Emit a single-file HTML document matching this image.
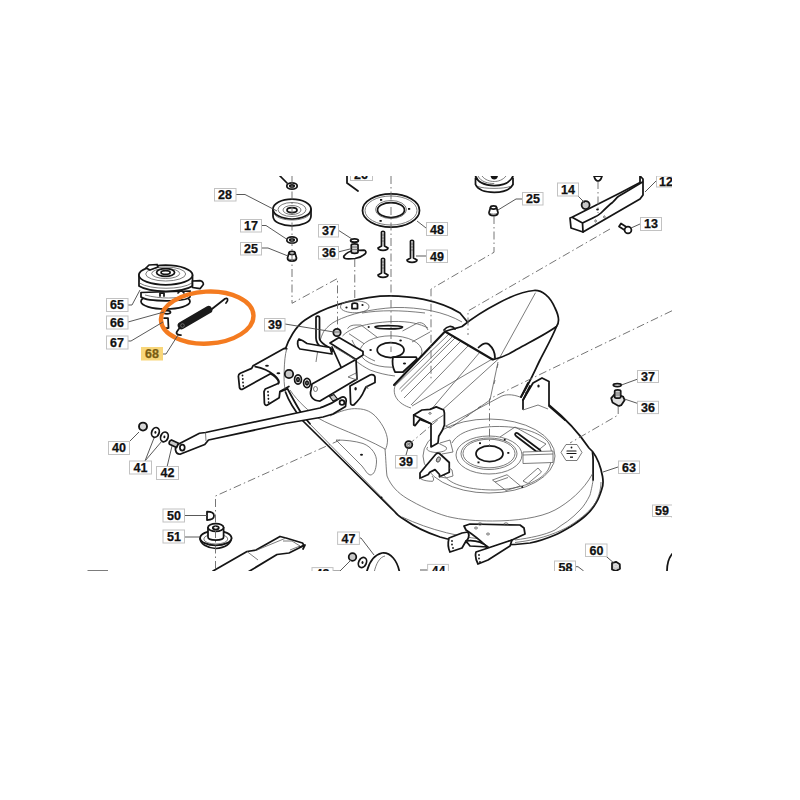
<!DOCTYPE html>
<html><head><meta charset="utf-8">
<style>
html,body{margin:0;padding:0;background:#fff;width:800px;height:800px;overflow:hidden}
svg{position:absolute;left:0;top:0}
text{font-family:"Liberation Sans",sans-serif;font-weight:bold;font-size:12.5px;fill:#111;stroke:#111;stroke-width:0.25}
.lb{fill:#fff;stroke:#c2c2c2;stroke-width:1}
.ld{fill:none;stroke:#505050;stroke-width:0.95}
.k{fill:#fff;stroke:#151515;stroke-width:1.75;stroke-linejoin:round;stroke-linecap:round}
.kn{fill:none;stroke:#151515;stroke-width:1.75;stroke-linejoin:round;stroke-linecap:round}
.kt{fill:none;stroke:#151515;stroke-width:2.1;stroke-linejoin:round;stroke-linecap:round}
.t{fill:none;stroke:#5a5a5a;stroke-width:0.8}
.tw{fill:#fff;stroke:#5a5a5a;stroke-width:0.8}
.dash{fill:none;stroke:#666;stroke-width:0.9;stroke-dasharray:8 3 1.5 3}
.dot{fill:#151515}
</style></head><body>
<svg width="800" height="800" viewBox="0 0 800 800">
<defs><clipPath id="cp"><rect x="84" y="176" width="588" height="395"/></clipPath></defs>
<g clip-path="url(#cp)">

<!-- ============ DECK ============ -->
<g id="deck">
<!-- outer body -->
<path class="k" d="M285 350 C288 340 296 326 305 320 C320 310 345 300 380 296.2 C410 294.5 440 301 460 313
 L525 392 L549 405 C560 414 575 427 589 448 L592.5 451.5 C596 456 600 463 602.5 476.25 C603.5 482 603 486 601.9 488.75 C600 495 598.5 499 596.25 502.5 C593 508 590 512 586.25 515 C581 520 576 523 571.25 526.25 C565 530 560 533 555 535 C548 538 540 541 530 543 L515 544.5 C490 545 460 543 440 537 C425 532 412 525 405 520 C400 517 397 515 395 512 L303 421 C295 411 289 402 285.5 392"/>
<path class="t" d="M285.5 392 C284 385 283.8 378 284.2 370 C284.5 362 285 355 286.7 348.75"/>
<!-- bottom-left double edge -->
<path class="t" d="M306 420 L398 514"/>
<!-- top rim inner line -->
<path class="t" d="M316 362 C318 348 320 338 324 331 C328 326 332 323 336 321 C350 314 370 309 395 307.5 C420 307 445 312 462 322"/>
<!-- right rim lines -->
<path class="t" d="M402 517 C430 530 460 538 500 541"/>
<path class="kn" d="M592.5 452.5 C593 456 593.1 458 593.1 460 L593.1 480"/>
<path class="t" d="M593.1 480 C592 487 591 491 590 495 C587 501 584 506 580 510 C576 514 572 518 567.5 521.25 C563 524 559 527 555 530 C545 535 530 538 515 540"/>
<path class="t" d="M601 482 C601 490 598 499 594 505 C588 513 578 521 566 528 C552 535 537 540 515 542.5"/>
<!-- left deck surface boundary -->
<path class="t" d="M290 390 C298 402 310 412 318 418 C335 428 360 435 385 449 C386 460 386 468 387 476 C391 486 398 493 407 498.5 C420 506 432 512 447.5 516.5 C462 520 477 521 492.5 521 C515 521 540 518 555 510 C568 503 584 490 592.5 473.75"/>
<path class="t" d="M330 416 C340 411 350 408 357.5 408.75 C366 409 372 412 377 418 C383 425 387 433 387.5 440 C387.5 444 386.5 447 385.5 449.5"/>
<!-- vent -->
<path class="tw" d="M336 440 C345 440 355 441 363 443.5 C372 447 377 455 376.5 462 C376 470 374 475 370 475 C367 474 366 471 362 466 Z"/>
<ellipse class="dot" cx="361.5" cy="454.7" rx="1.5" ry="1"/>
<circle class="dot" cx="381.5" cy="497.5" r="1"/>
<!-- left spindle -->
<path class="t" d="M362 313 C380 310 400 310 425 313"/>
<path class="t" d="M342.5 336 C350 328 365 323 392 321.5 C410 321 420 324 428 328"/>
<path class="t" d="M345 350 C350 357 360 365 370 370 C378 373 386 375 395 376 M352 340 C356 350 365 357 375 361"/>
<ellipse class="t" cx="391" cy="351.5" rx="31" ry="15.7"/>
<ellipse class="kn" cx="390.6" cy="350" rx="13.4" ry="7.5"/>
<path class="t" d="M340.5 306.8 C340.5 302 350 300.8 354.75 300.8 C360 300.8 369 302 369 306.8 C369 311 360 312.8 354.75 312.8 C349 312.8 340.5 311 340.5 306.8 Z"/>
<path class="kn" d="M352 308.5 V304.5 C352 302.5 357.5 302.5 357.5 304.5 V308.5 Z"/>
<circle class="dot" cx="346.5" cy="307.5" r="1.1"/><circle class="dot" cx="362.5" cy="305" r="1.1"/>
<path class="kn" d="M375 327 C376 325 400 325 402.5 327 C402 329.5 377 329.5 375 327 Z"/>
<circle class="dot" cx="368.7" cy="327" r="1.1"/>
<path class="t" d="M347.5 328.7 C349 326 352 325 356 325 L361 325 L377.5 337.5 M349 333.7 L364 343.7"/>
<path class="t" d="M402.5 331 L417.5 323 C420 322 423 323 425 325 L428 330 M412 342 L430 332"/>
<ellipse class="dot" cx="400.6" cy="340.6" rx="1.3" ry="1"/><ellipse class="dot" cx="370.6" cy="350" rx="1.3" ry="1"/>
<!-- right spindle -->
<ellipse class="t" cx="489" cy="456" rx="66" ry="37"/>
<path class="t" d="M452 443 C458 432 475 427 495 426.5 C520 426 540 432 548 442 C553 450 553 460 548 470 C540 482 520 489 495 490 C470 490 450 485 444 475"/>
<ellipse class="t" cx="489" cy="455" rx="33" ry="19"/>
<ellipse class="t" cx="489" cy="453.75" rx="28" ry="15.75"/>
<ellipse class="t" cx="489" cy="453.5" rx="26" ry="14.3"/>
<ellipse class="kn" cx="489.5" cy="453.75" rx="13.5" ry="7.9"/>
<path class="t" d="M500 437 L515 427 L546 444 L536 452"/>
<path class="kn" d="M518 433.5 L540 450 C542 452 539 454 537 452 L516 436 C514 434 516 432 518 433.5 Z"/>
<path class="tw" d="M523 452 L553 451 L553 462.5 L523 463.5 Z"/>
<path class="t" d="M523 455 L553 454 M492.5 480 L507 474.75 L520.5 486 L506 490.5 Z M495 482 L508 477.5 M523 481 L538 468 L541.5 472 L528 483.5 Z M440 443 L450 440 L453 452 L442 454"/>
<rect class="dot" x="479" y="442.3" width="2" height="1.8"/><rect class="dot" x="507.3" y="452" width="2" height="1.8"/><rect class="dot" x="477.5" y="461.5" width="2" height="1.8"/>
<circle class="dot" cx="504.75" cy="439.75" r="1"/><circle class="dot" cx="522.25" cy="487" r="1"/>
<path class="t" d="M566 444.5 L577 444.5 L582 452.4 L577 460.5 L566 460.5 L561 452.4 Z" style="stroke-linejoin:round"/>
<path class="kn" d="M567 451 H576 M567 453.5 H576" style="stroke-width:1.2"/>
<circle class="dot" cx="571.5" cy="447.5" r="0.9"/><rect class="dot" x="570" y="456.5" width="3" height="1.3"/>
</g>

<!-- ============ CHUTE ============ -->
<g id="chute">
<path fill="#fff" stroke="none" d="M395 386 L445 331.5 L462 326.5 C485 310 520 290 534 290.5 C550 292 562 315 556.5 326.5 L522 400 L520 396 L446 426 L411 408 C400 402 393 395 395 386 Z"/>
<!-- sleeve thin lines -->
<path class="t" d="M395 386 L449 334 M399.5 389 L453 336 M401 391.5 L455 338 M404 398 L461 341 M411 405 L468 346 M430 411 L480 352"/>
<path class="t" d="M395 386 C392 395 398 404 411 408"/>
<path class="t" d="M412 406 L494 358 M535.5 292.7 L499.5 358 L440 412"/>
<path class="t" d="M418 412 C430 418 440 424 450 428 L490 400 L498 362"/>
<path class="t" d="M453 426 l3 -2 M466 417 l3 -2 M478 408 l3 -2 M494 384 l1 -4 M497 368 l1 -4"/>
<path class="t" d="M446 426 L500 397 C505 394 512 394 520 397"/>
<!-- thick outline -->
<path class="kt" d="M394 385 L445 331.5 L492.5 359.5"/>
<path class="k" style="fill:none" d="M445 331.5 C452 329 458 328 462 326.5 C470 320 485 310 499.5 302.5 C510 297 522 291 534 290.5 C542 290 550 296 555 308 C559 316 560 322 556.5 326.5 C548 333 530 342 517.5 349 C512 352 508 356 493.5 359.5"/>
<path class="kn" d="M478.5 347.5 C482 344 486 342 489 344.5 C493 348 495 353 495 358"/>
<path class="kn" d="M556.5 326.5 C552 338 545 350 540 360 C535 370 530 382 521 397"/>
<path class="kn" d="M455 329 C452 325 447 326 444 330"/>
</g>

<!-- ============ BRACKETS ON DECK ============ -->
<g id="brackets">
<!-- rod (39 upper) -->
<path class="k" d="M316 318 C316 315.5 319.5 315.5 319.5 318 L319.5 338 C319.5 341 322 343 325 345 L333 350 L331 353 L322 348 C318 345 316 342 316 338 Z"/>
<!-- L plate -->
<path class="k" d="M299 339 C302 340 305 342 307 343.5 L330 347.5 L332 354 L300 349 C297 347 297 341 299 339 Z"/>
<!-- top plate + beam -->
<path class="k" d="M330 343 L339 337.5 L363 351.5 L363 355 L356 359.5 L341 350 Z"/>
<path class="kn" d="M332 347 L341 367"/>
<path class="k" d="M312 384 L356 359.5 L357 379 L320 401 C313 401 309 396 311 390 Z"/>
<path class="t" d="M348 377 L356 373 L357 380 Z"/>
<ellipse class="t" cx="315.5" cy="389" rx="2" ry="2.5"/>
<path class="t" d="M334 347 L356 360"/>
<!-- bracket right of beam -->
<path class="k" d="M350 386 L370 375 C372 374 374.5 375 375 377 L375 382.5 L366 387 L364 391 C362 396 358 401 353.75 405 C351.5 405.5 350.6 404 350.6 403 Z"/>
<ellipse class="dot" cx="355.6" cy="388.75" rx="1.2" ry="1.7"/>
<path class="t" d="M365 387 L367 386 L368 389"/>
<!-- spindle bracket left -->
<path class="k" d="M393 357 L416 357 L417 359 L403 372 L395 372 C393 368 392 362 393 357 Z"/>
<ellipse class="dot" cx="404.5" cy="363.5" rx="1.6" ry="1"/>
<!-- nut 39 upper -->
<circle class="k" cx="337" cy="332.5" r="3.7" style="fill:#cfcfcf"/>
<path class="t" d="M334 332 h6"/>
<!-- upper bracket (39 lower) -->
<path class="k" d="M413.75 415 L421.9 410 L430 409.4 L436.25 406.9 L443.75 410 L444.4 413 L444.4 425 L442.5 430 L438.75 436.25 L438 443 L431 446.9 L431 423.75 L420 419.4 L415 425.6 L413.75 425 Z"/>
<path class="kn" d="M413.75 415 L431 423.75"/>
<path class="t" d="M431.9 422.5 L443.75 415"/>
<ellipse class="t" cx="430" cy="413.4" rx="1.3" ry="0.8"/>
<path class="t" d="M428 447 C425 449 428 452 436 452.5 C444 452 448 450 446 447 L438 443"/>
<!-- lower bracket -->
<path class="k" d="M420 478.3 L420 473 L435.75 454.25 C437 453 438.5 453 439.5 453.5 L449.25 462.5 L449.25 472.25 L439.5 476.75 L439.5 474.5 L435 469.6 L429.75 472.25 L428.25 474.5 Z"/>
<path class="t" d="M420 478 C421 480 428 481.5 432.75 481.25 C434 480 434 478 432 476 M439.5 476.75 L446 478 L453 476 L452 470 L449.25 468"/>
<ellipse cx="438.4" cy="459.5" rx="1.8" ry="2.8" transform="rotate(25 438.4 459.5)" fill="#bbb" stroke="#333" stroke-width="0.8"/>
<!-- nut 39 lower -->
<circle class="k" cx="408.7" cy="444.6" r="3.6" style="fill:#d5d5d5"/>
<circle class="t" cx="408.5" cy="445" r="1.6"/>
<!-- right bracket at chute -->
<path class="k" d="M523 409 L523 400 L533 383 L542 378 L549 381.5 L549 406 L565 420"/>
<path class="kn" d="M521 397 L528 383 M523 400 L530 386"/>
<ellipse class="dot" cx="538.5" cy="386" rx="1.2" ry="1.6"/>
<path class="t" d="M523 410 L538 405 L548 409"/>
<!-- bottom bracket -->
<path class="k" d="M464 526 L470 524 L520 525 L524 528 L525 534 L512 540 L488 552 L486 546 C480 540 472 534 466 530 Z"/>
<path class="k" d="M449 538 L462 533 L468 532 C470 536 468 540 466 541 L462 548 L450 552 C448 548 448 542 449 538 Z"/>
<path class="k" d="M466 541 C474 540 482 542 488 547 L470 546 Z"/>
<path class="k" d="M476 552 L488 548 L512 540 L510 546 L488 560 L478 564 C476 560 475 555 476 552 Z"/>
<circle class="dot" cx="452" cy="541" r="0.9"/><circle class="dot" cx="452" cy="544.5" r="0.9"/><circle class="dot" cx="453" cy="548" r="0.9"/>
<circle class="dot" cx="479" cy="555" r="0.9"/><circle class="dot" cx="479" cy="558.5" r="0.9"/><circle class="dot" cx="480" cy="562" r="0.9"/>
<ellipse class="t" cx="476" cy="528" rx="1.5" ry="1"/><ellipse class="t" cx="488" cy="534" rx="1.5" ry="1"/><ellipse class="t" cx="506" cy="524" rx="2" ry="1.2"/><ellipse class="t" cx="480" cy="524" rx="2" ry="1.2"/>
</g>

<!-- ============ HITCH / BAR ============ -->
<g id="hitch">
<path class="k" d="M286.7 348.75 L284.5 348.3 L253 365.8 L251.7 368.4 L240.3 373.2 C238.8 374 238.3 375 238.4 376.5 L239.5 387.5 C239.8 389 241 389.6 242 389.4 L270.5 373.7 C274 375.5 277 378 278.4 381 C279 382.5 278.6 383.5 277.5 383.7 L270 387 L265.2 389 L264 391.6 L264.4 403 C264.6 404.8 265.6 405.5 267 405.2 L279.2 397.7 L279.9 391.6 L288.9 386.4" style="fill:#fff"/>
<path class="kn" d="M255.2 366.7 C262 368 269 371 274 375 C278 378.5 279.6 381.5 278.4 383.5"/>
<path class="t" d="M285.5 392 C284 385 283.8 378 284.2 370 C284.5 362 285 355 286.7 348.75"/>
<ellipse class="dot" cx="267" cy="365.8" rx="1.9" ry="1"/><ellipse class="dot" cx="278.4" cy="373.2" rx="1.9" ry="1"/>
<ellipse class="dot" cx="242.5" cy="375.5" rx="0.9" ry="1.1"/><ellipse class="dot" cx="242.8" cy="379" rx="0.9" ry="1.1"/><ellipse class="dot" cx="243" cy="382.5" rx="0.9" ry="1.1"/><ellipse class="dot" cx="243.3" cy="386" rx="0.9" ry="1.1"/>
<ellipse class="dot" cx="268" cy="391.8" rx="0.9" ry="1.1"/><ellipse class="dot" cx="268.2" cy="395.3" rx="0.9" ry="1.1"/><ellipse class="dot" cx="268.4" cy="398.8" rx="0.9" ry="1.1"/><ellipse class="dot" cx="268.6" cy="402.3" rx="0.9" ry="1.1"/>
<!-- nut + washers -->
<circle class="k" cx="289" cy="374" r="4.2" style="fill:#c8c8c8"/>
<ellipse class="k" cx="298" cy="379.5" rx="3.4" ry="4.6"/><ellipse class="kn" cx="298" cy="379.5" rx="1.2" ry="1.8"/>
<ellipse class="k" cx="307" cy="383" rx="3.4" ry="4.6"/><ellipse class="kn" cx="307" cy="383" rx="1.2" ry="1.8"/>
<!-- curved hanger -->
<path class="kn" d="M281 391.5 L287.5 388.75 C291 395 296 405 302.5 415 L310 423.75"/>
<!-- bar -->
<path class="k" d="M177.75 444.5 L199.5 433.25 L205.5 432.5 L320 408 C325 406 330 405 341 397.5 C344 396 347 398 346 402 L345.5 406.5 L333 414 L323 417 L285 423.5 L208.5 440 L204.75 444.5 L180 454.25 C175 454 174 447 177.75 444.5 Z"/>
<ellipse class="kn" cx="182.3" cy="447.5" rx="2.4" ry="3"/>
<circle class="kn" cx="342" cy="402.5" r="2.4"/>
<path class="t" d="M205.5 432.5 L206 441"/>
<path class="k" d="M329.5 396.5 L334 394.5 L337.5 399 L333 401 Z" style="fill:#c8c8c8;stroke-width:1.2"/>
</g>

<!-- ============ SMALL PARTS LEFT ============ -->
<g id="left">
<circle class="k" cx="143" cy="426.6" r="4" style="fill:#d8d8d8;stroke-width:1.9"/>
<ellipse class="k" cx="155.4" cy="432.4" rx="3.7" ry="5" transform="rotate(20 155.4 432.4)"/><ellipse class="dot" cx="155.4" cy="432.4" rx="1" ry="1.4"/>
<ellipse class="k" cx="164.4" cy="436.9" rx="3.7" ry="5" transform="rotate(20 164.4 436.9)"/><ellipse class="dot" cx="164.4" cy="436.9" rx="1" ry="1.4"/>
<path class="k" d="M171.5 440 L178.5 443.3 L176.5 447.5 L169.5 444.2 C168.5 443 169.5 440.5 171.5 440 Z" style="fill:#c8c8c8"/>
<!-- 50 D clip -->
<path class="kn" d="M207 511.7 L207 520 C212 520 214 518 214 515.8 C214 513 212 511.7 207 511.7 Z"/>
<!-- 51 washer -->
<path class="k" d="M200 538 C200 544 207 548 215.8 548.5 C225 548 231 544 231.5 538 Z"/>
<ellipse class="k" cx="215.8" cy="538" rx="15.7" ry="7.3"/>
<ellipse class="t" cx="215.8" cy="539" rx="12" ry="5"/>
<path class="k" d="M208 527.5 V537 C208 541 223.6 541 223.6 537 V527.5 Z"/>
<ellipse class="k" cx="215.8" cy="527.5" rx="7.8" ry="3.8"/>
<ellipse class="kn" cx="215.8" cy="527.8" rx="3" ry="1.7"/>
<!-- blade -->
<path fill="#fff" stroke="none" d="M213 572 L247 551.5 L256 550 L280 536.5 L286 538 L302.5 543 L304 545.5 L289 553 L277 554.5 L248 572 Z"/>
<path class="kn" d="M213 571 L247 551.5 L256 550 L280 536.5 L286 538 L302.5 543 L304 545.5 L289 553 L277 554.5 L248 572"/>
<path class="t" d="M247 551.5 L258 560 M283 541 L292 541 L300 546 L290 550 M257 550 L286 538"/>
<!-- tiny blade bottom-left -->
<path class="t" d="M87.5 570.5 H108"/>
<!-- arrow tip near 43 -->
<path class="kn" d="M300 547 L305 545 L303 549"/>
</g>

<!-- ============ CLUTCH + SPRING ============ -->
<g id="clutch">
<ellipse class="k" cx="165.5" cy="301.5" rx="24.5" ry="7.5"/>
<path class="k" d="M141 292.5 L190 291 L190 297 C185 302 148 302 141 297 Z"/>
<path class="t" d="M145 295 C160 299 178 299 188 295"/>
<path class="kn" d="M160 296 v-3 h4 v3 M178 293 l3 -3 l3 3"/>
<path class="k" d="M139 275 V286 C150 293 182 293 192.5 286 V275 Z"/>
<ellipse class="k" cx="165.7" cy="275" rx="26.8" ry="9.8"/>
<ellipse class="t" cx="165.7" cy="274" rx="20" ry="7"/>
<ellipse class="t" cx="165.7" cy="273.5" rx="14" ry="5"/>
<ellipse class="kn" cx="165.6" cy="272.5" rx="9" ry="3.8"/>
<ellipse class="kn" cx="165.6" cy="272.5" rx="4.5" ry="1.9"/>
<path class="t" d="M139.5 283 C150 290 182 290 192 283"/>
<path class="k" d="M192.5 281 L200 280.6 C203 281 204 284 203 285 L200 288.7 L192.5 287.5 Z"/>
<path class="k" d="M146 268 L149 265 L157 264.5 L158 267 L150 270 Z"/>
<!-- 66 small ring and 67 clip -->
<ellipse class="kn" cx="167" cy="312.3" rx="3.5" ry="1.6"/>
<path class="kn" d="M164 318 L168 318 L168.5 328 L163.5 328"/>
<!-- spring -->
<path class="kn" d="M181 326 L177 331.5 C175.5 334 178 335 181 335"/>
<path class="kn" d="M210 310.5 L225 298.7 C227.5 297.5 229 299.5 226 303"/>
<path d="M181.5 325.5 L208.5 309.8" stroke="#1a1a1a" stroke-width="7.6" stroke-linecap="round"/>
<circle cx="182.5" cy="325.5" r="1.8" fill="none" stroke="#777" stroke-width="0.8"/>
</g>

<!-- ============ TOP PARTS ============ -->
<g id="top">
<!-- small washer top -->
<ellipse class="k" cx="292" cy="186" rx="5.2" ry="3.2"/><ellipse class="kn" cx="292" cy="186" rx="2.2" ry="1.1"/>
<path class="kn" d="M280 176 L287 183"/>
<!-- pulley 28 -->
<path class="k" d="M273 209 V216 C273 229 311 229 311 216 V209 Z"/>
<ellipse class="k" cx="292" cy="209" rx="19" ry="10"/>
<ellipse class="t" cx="292" cy="209.5" rx="14" ry="7"/>
<ellipse class="t" cx="292" cy="210" rx="9" ry="4.5"/>
<ellipse class="kn" cx="292" cy="210" rx="5" ry="2.5"/>
<path class="t" d="M274 214 C280 222 304 222 310 214"/>
<!-- washer 17 -->
<ellipse class="k" cx="292" cy="240" rx="5.2" ry="3.2"/><ellipse class="kn" cx="292" cy="240" rx="2.2" ry="1.1"/>
<!-- nut 25 -->
<path class="k" d="M289 253 L287.5 258 C287.5 262 296.5 262 296.5 258 L295 253 Z"/>
<ellipse class="k" cx="292" cy="253" rx="3" ry="1.6"/><path class="t" d="M288 258.5 C290 260 294 260 296 258.5"/>
<!-- top right pulley -->
<path fill="#fff" stroke="none" d="M475 176 V184 C475 197 513 197 513 184 V176 Z"/>
<path class="kn" d="M475.5 176 C478 183 486 185.5 494.25 185.5 C502 185.5 510 183 513 176 M475.5 178 V184.5 C478 190 486 192.3 494.25 192.3 C502 192.3 510 190 513 184.5 V178"/>
<path class="t" d="M482 176 C485 180 490 181.5 494.25 181.5 C498 181.5 503 180 506 176 M478 176 C481 182 488 183.5 494.25 183.5"/>
<path class="dot" d="M490.5 176 C491 178.5 492.5 179.5 494.25 179.5 C496 179.5 497.5 178.5 498 176 Z"/>
<path class="t" d="M478 186.5 C484 189 504 189 510 186.5"/>
<!-- nut 25 right -->
<path class="k" d="M490.5 207.5 L489 212.5 C489 216.5 498 216.5 498 212.5 L496.5 207.5 Z"/>
<ellipse class="k" cx="493.5" cy="207.5" rx="3" ry="1.6"/><path class="t" d="M489.5 213 C491.5 214.5 495.5 214.5 497.5 213"/>
<!-- label 26 leader -->
<path class="kn" d="M347 176 V183 L358 191"/>
<!-- plate 48 -->
<ellipse class="k" cx="391" cy="210.5" rx="28.5" ry="16.6"/>
<ellipse class="t" cx="391" cy="210.5" rx="26" ry="14.5"/>
<ellipse class="kn" cx="391" cy="210" rx="13.5" ry="7.5"/>
<ellipse class="t" cx="391" cy="209.5" rx="15.5" ry="9"/>
<rect class="dot" x="380" y="199" width="2.2" height="1.8"/><rect class="dot" x="408" y="208" width="2.2" height="1.8"/><rect class="dot" x="379.5" y="220" width="2.2" height="1.8"/>
<!-- bolts 49 -->
<path class="k" d="M381.5 232 C381.5 231 384.5 231 384.5 232 V246 L388 248 C388 251 378 251 378 248 L381.5 246 Z"/>
<path class="t" d="M382 235 h2 M382 238 h2 M382 241 h2"/>
<path class="k" d="M410.5 241 C410.5 240 413.5 240 413.5 241 V258 L417 260 C417 263 407 263 407 260 L410.5 258 Z"/>
<path class="t" d="M411 244 h2 M411 247 h2 M411 250 h2"/>
<path class="k" d="M381.5 259 C381.5 258 384.5 258 384.5 259 V273 L388 275 C388 278 378 278 378 275 L381.5 273 Z"/>
<path class="t" d="M382 262 h2 M382 265 h2 M382 268 h2"/>
<!-- 37/36 mid -->
<ellipse class="kn" cx="354.5" cy="240.5" rx="3.9" ry="1.7"/>
<path class="k" d="M344 256 C346 253 350 251 354.5 250.5 L364 250.2 C366 250.5 366.5 252.5 365 254 C362 256.5 359 258 355 258.5 L348.5 258.8 C345 258.8 343 258 344 256 Z"/>
<path class="k" d="M351.3 245 C351.3 243.5 358 243.5 358 245 V252 C358 253.8 351.3 253.8 351.3 252 Z" style="fill:#d0d0d0"/>
<path class="t" d="M351.5 247 h6.3 M351.5 249.5 h6.3"/>
<!-- deflector 12 -->
<path class="k" d="M570 218 L572.5 217 L621 192.5 L640 182.5 L640 176 L643 179 L643 195 L640 199 L583 232 L571 228 Z"/>
<path class="kn" d="M572.5 217.5 L582.5 223 L583 232 M582.5 223 L593.75 217.5 C597 216 599 215 601 213 C605 209 609 205 612.5 202.5 C615 200 617 197 619 196 L625 192.5 L642.5 182"/>
<ellipse class="dot" cx="597.5" cy="209.4" rx="1.4" ry="1"/>
<ellipse class="t" cx="595.6" cy="221" rx="0.8" ry="1.2"/><ellipse class="t" cx="604.4" cy="217" rx="0.8" ry="1.2"/>
<!-- nut 14 -->
<circle class="k" cx="585.6" cy="205" r="4" style="fill:#c8c8c8"/>
<!-- nut small above deflector -->
<path class="k" d="M594 176 L602 176 C601 180 599 181 598 181 C597 181 595 180 594 176 Z"/>
<!-- bolt 13 -->
<path class="k" d="M619 226.5 L621 223.5 L628 228 L626 231 Z"/>
<circle class="k" cx="628" cy="230" r="3.4"/>
<!-- 36/37 right -->
<ellipse class="kn" cx="617.3" cy="385.1" rx="4" ry="1.5"/>
<path class="k" d="M611.2 398.2 L615 393.9 L623 396.5 L624.7 400 L621.2 405.2 L618.6 406.1 L612.5 402.6 Z" style="fill:#e0e0e0"/>
<path class="k" d="M614.7 391 C614.7 389.5 620.7 389.5 620.7 391 V397 C620.7 398.5 614.7 398.5 614.7 397 Z" style="fill:#cfcfcf"/>
<path class="t" d="M614.8 393 h5.8 M614.8 395 h5.8"/>
<!-- 60 nut -->
<path class="k" d="M612 563 L616 561.8 L619.8 564.2 L620 568.8 L616 571 L612 569.5 Z" style="fill:#c8c8c8"/><ellipse class="t" cx="616" cy="565.5" rx="2" ry="1.5" style="stroke:#eee"/>
<!-- 59 part arc -->
<path class="kn" d="M667 571 C667 565 668 559 672 554"/>
<!-- 58 leader curve -->
<path class="ld" d="M574.6 566.7 H578 L583.7 571"/>
<!-- 47 pulley -->
<circle class="k" cx="352.5" cy="557" r="3.8" style="fill:#c8c8c8"/>
<ellipse class="k" cx="362.5" cy="562.5" rx="3.8" ry="5.3" transform="rotate(25 362.5 562.5)"/><ellipse class="dot" cx="362.5" cy="562.5" rx="1" ry="1.5"/>
<path class="k" d="M366 575 C368 565 373 555 382 553 C390 552 398 560 400 575 Z"/>
<path class="t" d="M374 573 C376 563 380 557 385 556"/>
</g>
<!-- ============ DASHED CENTER LINES ============ -->
<g id="dashes">
<path class="dash" d="M292 176 V303.3 L337.5 278.5 V328"/>
<path class="dash" d="M354.75 259 V300"/>
<path class="dash" d="M391 176 V352"/>
<path class="dash" d="M494 216 V252.3 L431 289 V380"/>
<path class="dash" d="M610 229 L468 311 V335"/>
<path class="dash" d="M672 310.75 L489.5 398.8 V446"/>
<path class="dash" d="M618.2 406 V415 L570 443"/>
<path class="dash" d="M408 445 L440 418"/>
<path class="dash" d="M340 440 L215.5 496 V571"/>
<path class="dash" d="M598 181 V213"/>
</g>

</g>

<!-- ORANGE ELLIPSE -->
<ellipse cx="207.2" cy="317.6" rx="46.3" ry="26" transform="rotate(-3 207.2 317.6)" fill="none" stroke="#f47b20" stroke-width="4.4"/>

<!-- ============ LABELS ============ -->
<g id="labels">
<path class="ld" d="M236 194.5 H245 L277 211"/>
<rect class="lb" x="214.5" y="188.5" width="21.5" height="12.5"/><text x="218" y="199">28</text>
<path class="ld" d="M261 225.5 H266 L288 240"/>
<rect class="lb" x="240.5" y="219.5" width="21" height="12.5"/><text x="244" y="230">17</text>
<path class="ld" d="M261 248 H268 L288 256"/>
<rect class="lb" x="240.5" y="242.5" width="21" height="12.5"/><text x="244" y="253">25</text>
<rect class="lb" x="350.5" y="170" width="22" height="10.5"/><text x="354" y="179">26</text>
<path class="ld" d="M417 221 L426 228"/>
<rect class="lb" x="426.5" y="222.5" width="21" height="13"/><text x="430" y="233.5">48</text>
<path class="ld" d="M338 230 L352 239"/>
<rect class="lb" x="318.5" y="224.5" width="20" height="12.5"/><text x="322" y="235">37</text>
<path class="ld" d="M338 252 L350 249"/>
<rect class="lb" x="318.5" y="246.5" width="20" height="12.5"/><text x="322" y="257">36</text>
<path class="ld" d="M416 256 L426 256"/>
<rect class="lb" x="426.5" y="250" width="21" height="12.5"/><text x="430" y="260.5">49</text>
<path class="ld" d="M522 199 H516 L498 210"/>
<rect class="lb" x="522.5" y="192.5" width="20.5" height="12.5"/><text x="526" y="203">25</text>
<path class="ld" d="M578 196 L585 203"/>
<rect class="lb" x="557.5" y="183" width="21" height="13"/><text x="561" y="193.5">14</text>
<path class="ld" d="M656 181 L645 192"/>
<rect class="lb" x="656.5" y="176" width="24" height="11"/><text x="659" y="186">12</text>
<path class="ld" d="M640 224 L631 228"/>
<rect class="lb" x="640.5" y="217.5" width="21" height="13"/><text x="644" y="228">13</text>
<path class="ld" d="M128 305 H132 L140 290"/>
<rect class="lb" x="106.5" y="298.5" width="21.5" height="13"/><text x="110" y="309">65</text>
<path class="ld" d="M128 322 L164 312"/>
<rect class="lb" x="106.5" y="316" width="21.5" height="13"/><text x="110" y="326.5">66</text>
<path class="ld" d="M128 341 H131 L163 322"/>
<rect class="lb" x="106.5" y="336" width="21.5" height="13"/><text x="110" y="346.5">67</text>
<path class="ld" d="M163 354 H166 L178 335"/>
<rect x="141" y="347" width="22" height="13.5" fill="#f8d67a"/><text x="145" y="358" style="fill:#7a5c12;stroke:#7a5c12">68</text>
<path class="ld" d="M285 324 L334 332"/>
<rect class="lb" x="264.5" y="318.5" width="20.5" height="12.5"/><text x="268" y="329">39</text>
<path class="ld" d="M406 455 L408 448"/>
<rect class="lb" x="395.5" y="455.5" width="21.5" height="12.5"/><text x="399" y="466">39</text>
<path class="ld" d="M130 441 L139 432"/>
<rect class="lb" x="108.5" y="441.5" width="21" height="13"/><text x="112" y="452">40</text>
<path class="ld" d="M145 461 L154 438 M145 461 L162 441"/>
<rect class="lb" x="129.5" y="461" width="22" height="13"/><text x="133.5" y="471.5">41</text>
<path class="ld" d="M167 467 L172 446"/>
<rect class="lb" x="156.5" y="466.5" width="22" height="13"/><text x="160.5" y="477">42</text>
<path class="ld" d="M184.5 515.5 L207 515.5"/>
<rect class="lb" x="163" y="509" width="21.5" height="13"/><text x="167" y="519.5">50</text>
<path class="ld" d="M184.5 537 H200"/>
<rect class="lb" x="163" y="530" width="21.5" height="13"/><text x="167" y="540.5">51</text>
<path class="ld" d="M359.4 538 H361 L374 555"/>
<rect class="lb" x="337.6" y="532" width="21.8" height="12.4"/><text x="341.5" y="542.5">47</text>
<path class="ld" d="M333 571 L340 571 L351 560"/>
<rect class="lb" x="312" y="567.6" width="21" height="10"/><text x="315.5" y="578">43</text>
<path class="ld" d="M420 570 H427.6"/>
<rect class="lb" x="427.6" y="564.4" width="20.8" height="10"/><text x="431.5" y="575">44</text>
<path class="ld" d="M618 467 L603 472"/>
<rect class="lb" x="618.5" y="461" width="21" height="12.5"/><text x="622" y="471.5">63</text>
<path class="ld" d="M637.9 379 L621.2 385.1"/>
<rect class="lb" x="637.5" y="370.5" width="21" height="12"/><text x="641" y="380.5">37</text>
<path class="ld" d="M637.9 403.5 L624.7 399.1"/>
<rect class="lb" x="637.5" y="401.3" width="21" height="12.3"/><text x="641" y="411.7">36</text>
<path class="ld" d="M668.7 514.75 L672 517"/>
<rect class="lb" x="652.5" y="505" width="24" height="11.5"/><text x="655" y="515">59</text>
<path class="ld" d="M601.9 552.7 L613.4 562.6"/>
<rect class="lb" x="585.5" y="544" width="21.5" height="12.5"/><text x="589.5" y="554.5">60</text>
<rect class="lb" x="554.5" y="561" width="21" height="12"/><text x="558.5" y="571.5">58</text>
</g>
<rect x="0" y="571" width="800" height="229" fill="#fff"/>
<rect x="672" y="0" width="128" height="800" fill="#fff"/>
<rect x="0" y="0" width="800" height="176" fill="#fff"/>
</svg>
</body></html>
